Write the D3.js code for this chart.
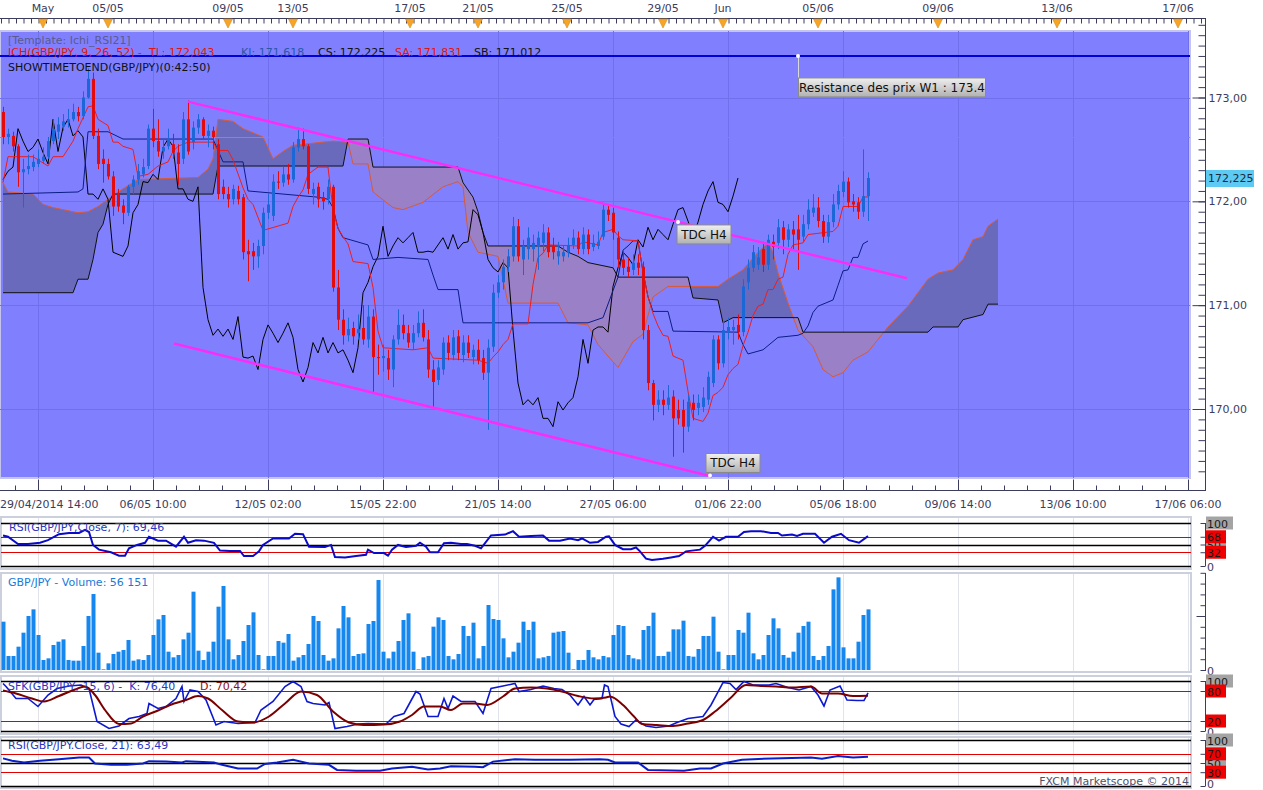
<!DOCTYPE html>
<html>
<head>
<meta charset="UTF-8">
<title>GBP/JPY H4 - Ichimoku</title>
<script src="https://d3js.org/d3.v7.min.js"></script>
<style>
    body { margin: 0; background: #fff; }
    svg { display: block; }
</style>
</head>
<body>
<div id="chart"></div>
<script>
// bougies H4 : [open, high, low, close]
var candles = [
[172.86,172.91,172.55,172.62],[172.62,172.70,172.55,172.65],[172.63,172.67,172.48,172.53],[172.53,172.55,172.14,172.28],
[172.28,172.41,171.94,172.31],[172.31,172.45,172.26,172.34],[172.33,172.45,172.29,172.38],[172.36,172.50,172.33,172.41],
[172.39,172.52,172.36,172.43],[172.43,172.62,172.41,172.58],[172.58,172.79,172.55,172.70],[172.67,172.81,172.60,172.74],
[172.72,172.84,172.68,172.77],[172.76,172.89,172.71,172.79],[172.79,172.94,172.77,172.86],[172.86,172.91,172.77,172.82],
[172.82,173.06,172.79,173.00],[173.00,173.28,172.99,173.18],[173.18,173.24,172.60,172.63],[172.63,172.70,172.31,172.36],
[172.41,172.50,172.18,172.36],[172.36,172.41,172.21,172.24],[172.24,172.29,171.86,171.95],[172.07,172.12,171.90,171.95],
[171.96,172.02,171.78,171.89],[171.89,172.16,171.86,172.14],[172.14,172.25,172.07,172.21],[172.21,172.36,172.16,172.29],
[172.26,172.41,172.23,172.33],[172.34,172.74,172.31,172.70],[172.70,172.89,172.52,172.58],[172.58,172.79,172.43,172.48],
[172.48,172.60,172.41,172.52],[172.53,172.70,172.50,172.60],[172.55,172.65,172.41,172.47],[172.47,172.55,172.16,172.36],
[172.41,172.86,172.36,172.79],[172.79,172.97,172.45,172.48],[172.57,172.77,172.50,172.71],[172.71,172.84,172.65,172.79],
[172.79,172.81,172.60,172.63],[172.63,172.74,172.52,172.68],[172.68,172.72,172.50,172.62],[172.55,172.60,172.02,172.07],
[172.14,172.21,172.02,172.07],[172.07,172.14,171.94,172.02],[172.02,172.16,171.97,172.12],[172.10,172.15,171.97,172.02],
[172.04,172.07,171.44,171.51],[171.52,171.63,171.23,171.49],[171.52,171.60,171.34,171.47],[171.47,171.63,171.36,171.57],
[171.57,171.94,171.49,171.89],[171.89,172.07,171.83,171.97],[171.86,172.26,171.81,172.19],[172.19,172.29,172.12,172.18],
[172.18,172.33,172.14,172.26],[172.26,172.36,172.16,172.21],[172.21,172.57,172.18,172.52],[172.52,172.71,172.48,172.60],
[172.60,172.70,172.50,172.53],[172.53,172.55,172.07,172.12],[172.07,172.18,171.97,172.12],[172.14,172.18,171.94,172.02],
[172.04,172.09,171.92,172.00],[172.02,172.21,171.97,172.14],[172.14,172.16,171.13,171.17],[171.17,171.34,170.76,170.86],
[170.86,170.96,170.62,170.71],[170.71,170.88,170.65,170.77],[170.78,170.84,170.62,170.70],[170.73,170.91,170.67,170.77],
[170.78,171.00,170.62,170.67],[170.67,171.00,170.59,170.89],[170.89,170.96,170.16,170.50],[170.50,170.62,170.33,170.49],
[170.49,170.62,170.36,170.51],[170.49,170.57,170.28,170.38],[170.38,170.71,170.21,170.67],[170.67,170.96,170.62,170.81],
[170.81,170.91,170.67,170.73],[170.73,170.81,170.59,170.64],[170.64,170.81,170.57,170.73],[170.73,170.94,170.69,170.83],
[170.83,170.96,170.65,170.69],[170.67,170.76,170.30,170.38],[170.38,170.47,170.02,170.26],[170.28,170.47,170.23,170.40],
[170.38,170.69,170.33,170.64],[170.64,170.71,170.47,170.54],[170.52,170.76,170.47,170.69],[170.70,170.76,170.47,170.54],
[170.52,170.71,170.45,170.64],[170.64,170.71,170.49,170.54],[170.50,170.62,170.43,170.57],[170.57,170.67,170.43,170.47],
[170.49,170.57,170.28,170.35],[170.35,170.67,169.80,170.59],[170.60,171.20,170.55,171.12],[171.12,171.29,171.07,171.22],
[171.22,171.44,171.15,171.37],[171.37,171.54,171.32,171.47],[171.47,171.85,171.42,171.76],[171.76,171.83,171.42,171.47],
[171.44,171.63,171.29,171.57],[171.54,171.75,171.44,171.65],[171.54,171.68,171.42,171.60],[171.56,171.71,171.34,171.65],
[171.60,171.78,171.52,171.70],[171.70,171.75,171.46,171.51],[171.57,171.65,171.44,171.51],[171.47,171.61,171.39,171.52],
[171.47,171.58,171.42,171.51],[171.51,171.65,171.46,171.58],[171.58,171.73,171.54,171.65],[171.65,171.71,171.49,171.54],
[171.54,171.75,171.49,171.68],[171.68,171.73,171.49,171.54],[171.56,171.68,171.52,171.60],[171.57,171.71,171.54,171.61],
[171.66,171.97,171.63,171.92],[171.92,171.97,171.81,171.87],[171.89,171.94,171.63,171.70],[171.65,171.71,171.36,171.44],
[171.44,171.52,171.29,171.36],[171.37,171.46,171.27,171.32],[171.34,171.49,171.29,171.41],[171.41,171.49,171.29,171.36],
[171.37,171.42,170.67,170.76],[170.76,170.81,170.18,170.25],[170.25,170.28,169.89,170.04],[170.04,170.18,169.97,170.09],
[170.09,170.18,169.94,170.04],[170.04,170.23,169.99,170.11],[170.12,170.18,169.54,169.91],[169.99,170.09,169.85,169.91],
[169.99,170.09,169.58,169.83],[169.83,170.14,169.78,170.07],[170.06,170.14,169.89,169.99],[170.01,170.14,169.94,170.06],
[170.02,170.21,169.97,170.11],[170.09,170.36,170.04,170.31],[170.25,170.71,170.21,170.67],[170.67,170.71,170.38,170.44],
[170.44,170.84,170.40,170.76],[170.74,170.88,170.67,170.79],[170.76,170.86,170.62,170.79],[170.81,170.91,170.67,170.74],
[170.74,171.25,170.70,171.18],[171.22,171.44,171.15,171.36],[171.36,171.58,171.32,171.51],[171.39,171.56,171.34,171.46],
[171.54,171.61,171.32,171.39],[171.39,171.68,171.34,171.63],[171.61,171.68,171.44,171.56],[171.60,171.83,171.54,171.75],
[171.75,171.81,171.49,171.63],[171.63,171.78,171.56,171.73],[171.73,171.81,171.54,171.68],[171.73,171.87,171.34,171.63],
[171.66,171.87,171.61,171.78],[171.78,172.02,171.73,171.92],[171.89,172.07,171.85,171.94],[171.94,172.04,171.75,171.81],
[171.81,171.87,171.60,171.66],[171.66,171.87,171.60,171.80],[171.80,172.07,171.75,171.97],[171.97,172.16,171.92,172.10],
[172.09,172.29,172.04,172.19],[172.19,172.23,171.94,171.99],[172.00,172.07,171.90,171.97],[171.99,172.04,171.83,171.90],
[171.90,172.50,171.85,172.05],[172.05,172.28,171.81,172.225]
];

var volumes = [
44750,12960,12960,21600,34560,50000,56170,32400,9260,10800,
23150,26230,28390,9260,8640,8640,22220,50000,70360,16050,
620,6170,14810,16970,18520,27770,8640,9880,9260,13890,
32400,46910,50920,16970,11730,13890,28390,34560,72520,17900,
9260,16970,26230,58630,77770,28390,9880,13890,26850,41660,
53390,13890,620,12960,12960,26850,25310,33330,8640,11730,
13890,24070,50000,45360,13890,8640,10800,38580,59250,48760,
12960,14810,15430,42590,45360,83320,16970,10800,16970,26850,
46290,52460,16970,620,11730,12960,40120,48760,46290,12960,
9880,14810,40740,31480,43820,10800,22220,60180,47220,46290,
29320,11730,16970,25310,44750,37030,44750,10800,11730,12960,
34560,35490,36110,16050,620,9260,9260,18520,11730,9880,
12960,11730,32400,41660,40740,13890,10800,9880,37030,40740,
53080,12960,12960,16970,37650,37650,45670,12960,12340,19440,
31480,31480,49380,16970,620,13890,13890,37030,34560,53080,
15430,9880,13890,32400,47830,38580,13890,11420,16970,34560,
40740,44750,12960,9260,12960,22220,74680,85790,20980,10800,
10800,26230,50920,56151
];

// lignes Ichimoku : [indice de barre, prix]
var tenkan = [[0,172.18],[1,172.43],[6,172.43],[9,172.34],[10,172.43],[12,172.43],[14,172.58],[15,172.70],[17,172.91],[18,172.92],
[19,172.79],[21,172.73],[22,172.57],[23,172.57],[24,172.53],[26,172.50],[27,172.24],[29,172.26],[31,172.34],[33,172.38],
[34,172.48],[35,172.53],[37,172.57],[42,172.57],[43,172.49],[45,172.49],[46,172.40],[48,172.13],[49,172.02],[50,171.97],
[52,171.72],[57,171.79],[58,171.95],[59,172.04],[60,172.11],[61,172.26],[63,172.33],[65,172.33],[66,171.92],[67,171.74],
[68,171.66],[69,171.59],[70,171.42],[73,171.40],[74,171.17],[75,170.75],[76,170.59],[82,170.57],[85,170.59],[86,170.49],
[95,170.47],[97,170.44],[98,170.50],[99,170.55],[100,170.62],[101,170.67],[102,170.82],[105,170.82],[106,171.20],[107,171.46],
[108,171.50],[109,171.58],[115,171.57],[116,171.61],[119,171.58],[120,171.70],[122,171.73],[123,171.67],[124,171.63],[127,171.62],
[128,171.32],[129,171.08],[130,170.92],[131,170.80],[132,170.71],[133,170.70],[134,170.51],[136,170.47],[137,170.17],[138,169.91],
[140,169.88],[141,169.96],[142,170.13],[143,170.16],[144,170.21],[145,170.33],[146,170.39],[147,170.43],[148,170.61],[149,170.74],
[150,170.90],[151,170.99],[152,171.01],[153,171.15],[154,171.15],[155,171.25],[156,171.27],[157,171.49],[158,171.58],[160,171.60],
[161,171.68],[166,171.71],[167,171.76],[168,171.95],[171,171.95],[172,172.04],[173,172.043]];

var kijun = [[0,172.07],[15,172.09],[16,172.12],[17,172.67],[21,172.67],[24,172.60],[42,172.60],[44,172.38],[48,172.38],[49,172.10],
[63,172.04],[65,172.02],[66,171.94],[67,171.74],[68,171.65],[73,171.58],[74,171.44],[79,171.46],[85,171.44],[86,171.29],
[87,171.15],[91,171.15],[92,170.83],[117,170.83],[120,170.88],[123,171.27],[124,171.53],[125,171.57],[126,171.62],[127,171.62],
[128,171.32],[129,171.08],[130,170.94],[133,170.94],[134,170.75],[147,170.74],[148,170.62],[149,170.53],[152,170.57],[153,170.61],
[155,170.69],[159,170.71],[160,170.73],[161,170.80],[162,170.93],[163,170.99],[166,171.05],[167,171.19],[168,171.33],[169,171.34],
[170,171.46],[171,171.46],[172,171.59],[173,171.618]];

var spanA = [[0,172.18],[1,172.09],[6,172.07],[8,171.97],[10,171.94],[15,171.89],[17,171.90],[19,171.95],[21,172.02],[24,172.12],
[27,172.21],[39,172.23],[41,172.31],[42,172.41],[43,172.79],[46,172.77],[48,172.70],[52,172.62],[54,172.41],[56,172.48],
[58,172.54],[66,172.58],[69,172.57],[70,172.36],[73,172.36],[74,172.09],[78,171.94],[80,171.92],[84,171.99],[88,172.14],
[91,172.19],[92,172.14],[93,171.70],[95,171.51],[99,171.47],[101,171.02],[111,171.02],[113,170.83],[117,170.81],[119,170.62],
[123,170.40],[126,170.65],[128,170.72],[130,171.08],[133,171.18],[143,171.18],[145,171.25],[148,171.34],[151,171.51],[153,171.60],
[154,171.51],[155,171.31],[157,171.02],[159,170.76],[162,170.60],[164,170.38],[166,170.31],[168,170.35],[170,170.47],[173,170.55],
[175,170.67],[177,170.79],[179,170.89],[181,170.99],[183,171.12],[185,171.25],[187,171.31],[190,171.34],[192,171.44],[194,171.63],
[196,171.66],[197,171.76],[199,171.83]];

var spanB = [[0,171.12],[14,171.12],[15,171.25],[17,171.25],[18,171.44],[19,171.70],[20,171.78],[21,171.97],[22,172.07],[42,172.07],
[43,172.34],[68,172.34],[69,172.60],[73,172.60],[74,172.33],[91,172.33],[92,172.18],[94,172.04],[95,171.90],[96,171.70],
[97,171.57],[111,171.57],[113,171.51],[115,171.47],[117,171.41],[122,171.36],[123,171.27],[137,171.27],[138,171.07],[143,171.05],
[144,170.83],[146,170.88],[159,170.88],[160,170.74],[185,170.74],[186,170.79],[191,170.79],[192,170.86],[196,170.91],[197,171.01],
[199,171.01]];

var chikouShift = 26;

// indicateurs : [indice de barre, valeur]
var rsi7 = [[0,71],[1,68],[3,51],[5,51],[7.4,54],[9,60],[11.2,74],[13.2,77],[15.2,77],[16.4,84],[17.2,79],[18,49],[19.2,38],
[21.6,32],[23.2,24],[24.4,24],[25.2,41],[26.8,49],[28.4,54],[29.2,68],[31,59],[32.6,59],[34.6,45],[36.2,68],[37,54],[38.6,60],
[40.2,59],[42.2,54],[43.4,36],[45.4,35],[47.4,35],[48.2,23],[50,23],[51.2,34],[52,49],[54,64],[57.2,64],[58.4,75],[60,74],
[61.2,45],[64.4,44],[65.6,49],[66.4,21],[68.4,20],[70.6,23],[72.6,26],[73,38],[74.2,30],[76.2,30],[77,24],[77.8,38],[79,49],
[80.6,44],[82.6,47],[83.4,54],[84.6,45],[85.4,32],[87,32],[88.2,53],[89.6,54],[91.6,51],[92.8,51],[94.4,47],[95.6,41],[97.6,71],
[100.4,73],[102,81],[103.2,68],[105.6,70],[108,71],[109.2,59],[111.4,59],[113.4,64],[115,60],[115.8,64],[117.4,54],[119,56],
[120.6,68],[121.2,69],[122.4,49],[124,39],[125.6,39],[126.6,43],[127.4,34],[128.6,17],[129.8,14],[132,17],[133.6,20],[135.2,23],
[136.6,34],[139.4,38],[140.4,47],[142,68],[143.2,59],[144.6,68],[147,68],[148.2,79],[149.6,81],[151.6,81],[153.6,77],[155,77],
[155.8,71],[157.8,73],[158.8,70],[160,75],[162.4,75],[164.2,54],[165.8,68],[167.6,75],[169.2,60],[171.2,54],[173,69.46]];

var stochK = [[0,95],[0.6,89],[2.6,65],[5,65],[7,49],[9,72],[10.8,85],[13.2,90],[15.6,92],[17.2,85],[18.8,19],[21.2,5],[23.2,10],
[25.2,25],[27.2,29],[28.8,35],[29.2,55],[31,45],[32.6,49],[34.6,65],[35.8,89],[36.2,59],[37.4,82],[39,79],[40.6,62],[42.6,12],
[44.2,19],[47,15],[50.4,17],[51.6,42],[54,59],[56.4,89],[58,99],[59.6,89],[60.8,59],[62,55],[64.4,52],[65.2,57],[66.4,5],
[68.8,9],[71,14],[73,15],[76.6,14],[78.2,29],[80.2,35],[82.6,79],[83.4,74],[85,29],[87,29],[88.2,65],[89,45],[90,70],[91.6,59],
[94.4,59],[96,35],[97.6,85],[100,90],[102.4,95],[103.2,79],[105.6,83],[108,90],[110.2,85],[111.8,83],[113.4,72],[115,52],
[116.2,69],[117.4,52],[118.2,63],[119.8,65],[120.3,92],[121,89],[122.4,29],[123.6,14],[125.2,9],[126.6,22],[128.6,10],[130.6,7],
[133.2,10],[134.8,17],[137,25],[140,29],[141.6,52],[144,97],[145.4,95],[146.6,83],[148.2,99],[150,92],[153.2,92],[154.6,95],
[157,87],[159.2,82],[161.6,89],[163,72],[164.2,50],[165.4,82],[167.4,90],[168.8,62],[170.8,61],[172.2,61],[173,76.4]];

var stochD = [[0,81],[2.6,75],[5.8,65],[8.2,59],[11.2,70],[14.4,83],[16.4,89],[18.4,72],[20.4,42],[23.2,14],[25.6,15],[28,29],
[31,41],[34.2,55],[36.6,62],[39,70],[41,65],[43.8,42],[47,19],[50,17],[53.2,29],[56.4,55],[59.6,79],[62.8,72],[66,39],[69.2,17],
[72.2,12],[76.2,13],[79.4,19],[81.8,32],[84.2,49],[87.4,49],[89.6,42],[92,55],[94.4,55],[96.8,52],[100,69],[102.4,85],[105.6,87],
[108.8,85],[111.8,79],[115,70],[118.2,65],[120.6,67],[121.4,69],[124,52],[126.2,29],[127.8,14],[130.8,12],[134,10],[137,15],
[140,22],[142.4,39],[145.4,65],[148.6,92],[151.6,90],[154.6,89],[157.8,87],[161.6,89],[163.8,75],[167,75],[170,70],[173,70.42]];

var rsi21 = [[0,60],[1.8,55],[4.2,51],[7.4,55],[11.2,58],[15.2,62],[17.2,62],[18.4,49],[21.6,46],[24.8,46],[28,49],[29.2,54],
[32.6,53],[35.8,51],[36.6,54],[42.2,51],[43.8,46],[47,38],[50.8,38],[52.4,48],[54.8,51],[58,57],[61.2,49],[65.2,46],[66.8,35],
[70.6,33],[75.4,33],[77.8,38],[81.8,42],[85,36],[87.4,38],[89.6,43],[94.4,42],[96,41],[98,53],[102.4,58],[106.4,57],[113.4,57],
[119.4,58],[121,57],[122.4,51],[127,51],[129,35],[136.2,33],[139.4,38],[141.6,38],[144,49],[147.8,57],[153.8,60],[161.6,62],
[163.8,59],[167,65],[170,62],[173,63.49]];

// axes et repères
var priceTicks = [170, 171, 172, 173];
var bottomTickIdx = [7, 30, 53, 76, 99, 122, 145, 168, 191, 214, 237];
var bottomLabels = ["29/04/2014 14:00", "06/05 10:00", "12/05 02:00", "15/05 22:00", "21/05 14:00", "27/05 06:00",
    "01/06 22:00", "05/06 18:00", "09/06 14:00", "13/06 10:00", "17/06 06:00"];
var topMarkIdx = [8, 21, 45, 58, 81.4, 95, 112.8, 132, 144, 163, 187, 210.8, 235];
var topLabels = ["May", "05/05", "09/05", "13/05", "17/05", "21/05", "25/05", "29/05", "Jun", "05/06", "09/06", "13/06", "17/06"];
var trendUpper = [[37, 172.96], [180.8, 171.26]];
var trendLower = [[34.2, 170.63], [141.8, 169.35]];
var resistanceW1 = 173.4;
var levelLine = 172.62;
var lastClose = 172.225;

var W = 1263, H = 790;
var plot = { left: 0, top: 31, right: 1190, bottom: 478 };
var axisX = 1205;
var red = "#e30b0b", blue = "#1b67d8";
var txtCol = "#3c3c5c";

var svg = d3.select("#chart").append("svg")
    .attr("width", W).attr("height", H)
    .style("font-family", "'DejaVu Sans', Verdana, sans-serif")
    .style("font-size", "11px");

svg.append("rect").attr("width", W).attr("height", H).attr("fill", "#fff");

var defs = svg.append("defs");
defs.append("clipPath").attr("id", "plotClip").append("rect")
    .attr("x", plot.left).attr("y", plot.top)
    .attr("width", plot.right - plot.left).attr("height", plot.bottom - plot.top);
var grad = defs.append("linearGradient").attr("id", "tagFill")
    .attr("x1", 0).attr("y1", 0).attr("x2", 0).attr("y2", 1);
grad.append("stop").attr("offset", "0%").attr("stop-color", "#f0f0f0");
grad.append("stop").attr("offset", "100%").attr("stop-color", "#b0b0b0");

var x = d3.scaleLinear().domain([0, 173]).range([3, 868]);
var y = d3.scaleLinear().domain([170, 173]).range([409, 97.5]);

// ---------- graphique principal ----------
svg.append("rect")
    .attr("x", plot.left).attr("y", plot.top)
    .attr("width", plot.right - plot.left).attr("height", plot.bottom - plot.top)
    .attr("fill", "#8080ff").attr("stroke", "#c4c4ec").attr("stroke-width", 2);

var main = svg.append("g").attr("clip-path", "url(#plotClip)");

main.selectAll(".hgrid").data(priceTicks).enter().append("line")
    .attr("x1", plot.left).attr("x2", plot.right)
    .attr("y1", d => Math.round(y(d)) + 0.5).attr("y2", d => Math.round(y(d)) + 0.5)
    .attr("stroke", "#7070ec");
main.selectAll(".vgrid").data(bottomTickIdx).enter().append("line")
    .attr("x1", d => x(d) + 0.5).attr("x2", d => x(d) + 0.5)
    .attr("y1", plot.top).attr("y2", plot.bottom)
    .attr("stroke", "#7070ec");

// nuage : deux couleurs selon la position de SSA / SSB
var aboveArea = d3.area().x(d => x(d[0])).y0(plot.top).y1(d => y(d[1]));
var belowArea = d3.area().x(d => x(d[0])).y0(d => y(d[1])).y1(plot.bottom);
defs.append("clipPath").attr("id", "aboveB").append("path").attr("d", aboveArea(spanB));
defs.append("clipPath").attr("id", "aboveA").append("path").attr("d", aboveArea(spanA));
main.append("path").attr("d", belowArea(spanA)).attr("fill", "#6a6abc").attr("clip-path", "url(#aboveB)");
main.append("path").attr("d", belowArea(spanB)).attr("fill", "#9a80c6").attr("clip-path", "url(#aboveA)");

var line = d3.line().x(d => x(d[0])).y(d => y(d[1]));
main.append("path").attr("d", line(spanA)).attr("fill", "none").attr("stroke", "#d65a3a").attr("stroke-width", 1);
main.append("path").attr("d", line(spanB)).attr("fill", "none").attr("stroke", "#101010").attr("stroke-width", 1);

main.append("line").attr("x1", plot.left).attr("x2", plot.right)
    .attr("y1", Math.round(y(levelLine)) + 0.5).attr("y2", Math.round(y(levelLine)) + 0.5)
    .attr("stroke", "#8f8f86");
main.append("line").attr("x1", plot.left).attr("x2", plot.right)
    .attr("y1", y(resistanceW1)).attr("y2", y(resistanceW1))
    .attr("stroke", "#0000d8").attr("stroke-width", 2);

var chikou = candles.slice(chikouShift).map((d, k) => [k, d[3]]);
main.append("path").attr("d", line(chikou)).attr("fill", "none").attr("stroke", "#000").attr("stroke-width", 1);
main.append("path").attr("d", line(kijun)).attr("fill", "none").attr("stroke", "#0c1c86").attr("stroke-width", 1);
main.append("path").attr("d", line(tenkan)).attr("fill", "none").attr("stroke", "#f01c1c").attr("stroke-width", 1);

// bougies
var gC = main.append("g");
gC.selectAll(".wick").data(candles).enter().append("line")
    .attr("x1", (d, i) => x(i) + 0.5).attr("x2", (d, i) => x(i) + 0.5)
    .attr("y1", d => y(d[1])).attr("y2", d => y(d[2]))
    .attr("stroke", d => d[3] >= d[0] ? blue : red);
gC.selectAll(".body").data(candles).enter().append("rect")
    .attr("x", (d, i) => x(i) - 1).attr("width", 3)
    .attr("y", d => y(Math.max(d[0], d[3])))
    .attr("height", d => Math.max(1, Math.abs(y(d[0]) - y(d[3]))))
    .attr("fill", d => d[3] >= d[0] ? blue : red);

// canaux
[trendUpper, trendLower].forEach(function (t) {
    main.append("line")
        .attr("x1", x(t[0][0])).attr("y1", y(t[0][1]))
        .attr("x2", x(t[1][0])).attr("y2", y(t[1][1]))
        .attr("stroke", "#f82ef8").attr("stroke-width", 2.5);
});

function onTrend(t, i) {
    return t[0][1] + (i - t[0][0]) / (t[1][0] - t[0][0]) * (t[1][1] - t[0][1]);
}

function tag(px, py, bx, by, w, h, label) {
    var g = svg.append("g");
    g.append("rect").attr("x", bx).attr("y", by).attr("width", w).attr("height", h)
        .attr("fill", "url(#tagFill)").attr("stroke", "#8a8a8a").attr("stroke-width", 1);
    g.append("text").attr("x", bx + w / 2).attr("y", by + h / 2 + 4.5)
        .attr("text-anchor", "middle").attr("fill", "#111").style("font-size", "12px").text(label);
    g.append("circle").attr("cx", px).attr("cy", py).attr("r", 2).attr("fill", "#fff");
    return g;
}

var tIdx = 135;
var tPy = y(onTrend(trendUpper, tIdx));
tag(x(tIdx), tPy, x(tIdx) - 1, tPy + 3, 54, 19, "TDC H4");
var lPx = x(trendLower[1][0]), lPy = y(trendLower[1][1]);
tag(lPx - 2, lPy - 1, lPx - 6, lPy - 23, 54, 19, "TDC H4");

var rIdx = 159, rPy = y(resistanceW1);
svg.append("line").attr("x1", x(rIdx) + 0.5).attr("x2", x(rIdx) + 0.5)
    .attr("y1", rPy).attr("y2", rPy + 24).attr("stroke", "#d8d8d8");
tag(x(rIdx), rPy, x(rIdx) + 0.5, rPy + 22, 187, 19, "Resistance des prix W1 : 173.4");

// en-tête du graphique
svg.append("text").attr("x", 8).attr("y", 44).attr("fill", "#5a5a90").text("[Template: Ichi_RSI21]");
var ich = svg.append("text").attr("y", 56);
[["ICH(GBP/JPY, 9, 26, 52) -  TL: 172,043", 8, "#e01414"],
 ["KI: 171,618", 241, "#2a56a8"],
 ["CS: 172,225", 318, "#111"],
 ["SA: 171,831", 395, "#e01414"],
 ["SB: 171,012", 474, "#111"]].forEach(function (p) {
    ich.append("tspan").attr("x", p[1]).attr("fill", p[2]).attr("xml:space", "preserve").text(p[0]);
});
svg.append("text").attr("x", 8).attr("y", 71).attr("fill", "#111").text("SHOWTIMETOEND(GBP/JPY)(0:42:50)");

// axe du haut
svg.append("line").attr("x1", 0).attr("x2", axisX).attr("y1", 18.5).attr("y2", 18.5).attr("stroke", txtCol);
var topMinor = d3.range(-0.4, 241, 1.5);
svg.append("g").attr("transform", "translate(0,18.5)")
    .call(d3.axisBottom(x).tickValues(topMinor).tickSize(5).tickFormat(""))
    .call(g => g.select(".domain").remove())
    .call(g => g.selectAll("line").attr("stroke", txtCol));
svg.selectAll(".topMark").data(topMarkIdx).enter().append("path")
    .attr("d", d => "M" + (x(d) - 4.5) + ",19 L" + (x(d) + 4.5) + ",19 L" + x(d) + ",28 Z")
    .attr("fill", "#f7a526").attr("stroke", "#d88a10").attr("stroke-width", 0.6);
svg.selectAll(".topLab").data(topMarkIdx).enter().append("text")
    .attr("x", d => x(d)).attr("y", 12).attr("text-anchor", "middle").attr("fill", txtCol)
    .text((d, i) => topLabels[i]);

// axe du bas
var botMinor = d3.range(2.4, 241, 4.6);
svg.append("line").attr("x1", 0).attr("x2", axisX).attr("y1", 490.5).attr("y2", 490.5).attr("stroke", txtCol);
svg.append("g").attr("transform", "translate(0,490.5)")
    .call(d3.axisTop(x).tickValues(botMinor).tickSize(5).tickFormat(""))
    .call(g => g.select(".domain").remove())
    .call(g => g.selectAll("line").attr("stroke", txtCol));
svg.append("g").attr("transform", "translate(0,490.5)")
    .call(d3.axisTop(x).tickValues(bottomTickIdx).tickSize(11).tickFormat(""))
    .call(g => g.select(".domain").remove())
    .call(g => g.selectAll("line").attr("stroke", txtCol));
svg.selectAll(".botLab").data(bottomTickIdx).enter().append("text")
    .attr("x", (d, i) => i === 0 ? 0 : x(d))
    .attr("y", 508)
    .attr("text-anchor", (d, i) => i === 0 ? "start" : "middle")
    .attr("fill", txtCol)
    .text((d, i) => bottomLabels[i]);

// axe des prix
svg.append("line").attr("x1", axisX + 0.5).attr("x2", axisX + 0.5).attr("y1", 18).attr("y2", 491).attr("stroke", txtCol);
svg.append("g").attr("transform", "translate(" + (axisX + 0.5) + ",0)")
    .call(d3.axisRight(y).tickValues(d3.range(169.4, 173.75, 0.1)).tickSize(-7).tickFormat(""))
    .call(g => g.select(".domain").remove())
    .call(g => g.selectAll("line").attr("stroke", txtCol));
svg.append("g").attr("transform", "translate(" + (axisX + 0.5) + ",0)")
    .call(d3.axisRight(y).tickValues(priceTicks).tickSize(-13).tickPadding(3)
        .tickFormat(d => d3.format(".2f")(d).replace(".", ",")))
    .call(g => g.select(".domain").remove())
    .call(g => g.selectAll("line").attr("stroke", txtCol))
    .call(g => g.selectAll("text").attr("fill", txtCol).style("font-size", "11px")
        .style("font-family", "'DejaVu Sans', Verdana, sans-serif"));
svg.append("rect").attr("x", axisX + 1).attr("y", y(lastClose) - 8).attr("width", 48).attr("height", 17).attr("fill", "#5ccaf2");
svg.append("text").attr("x", axisX + 3).attr("y", y(lastClose) + 4.5).attr("fill", "#1a2a3a").text("172,225");

// ---------- panneaux inférieurs ----------
function panelFrame(top, bottom) {
    svg.append("rect").attr("x", 1).attr("y", top).attr("width", 1190).attr("height", bottom - top)
        .attr("fill", "#fff").attr("stroke", "#ccd0dc").attr("stroke-width", 2);
    svg.append("g").selectAll("line").data(bottomTickIdx).enter().append("line")
        .attr("x1", d => x(d) + 0.5).attr("x2", d => x(d) + 0.5)
        .attr("y1", top + 1).attr("y2", bottom - 1).attr("stroke", "#e2e2ea");
}

function levels(sc, list) {
    list.forEach(function (l) {
        svg.append("line").attr("x1", 1).attr("x2", 1191)
            .attr("y1", Math.round(sc(l[0])) + 0.5).attr("y2", Math.round(sc(l[0])) + 0.5)
            .attr("stroke", l[1]).attr("stroke-width", l[1] === "#000" ? 1.4 : 1);
    });
}

function rightScale(sc, list, ticks) {
    svg.append("line").attr("x1", axisX + 0.5).attr("x2", axisX + 0.5)
        .attr("y1", sc.range()[1]).attr("y2", sc.range()[0]).attr("stroke", txtCol);
    svg.append("g").attr("transform", "translate(" + (axisX + 0.5) + ",0)")
        .call(d3.axisRight(sc).tickValues(ticks).tickSize(-5).tickFormat(""))
        .call(g => g.select(".domain").remove())
        .call(g => g.selectAll("line").attr("stroke", txtCol));
    list.forEach(function (l) {
        if (l[1]) {
            svg.append("rect").attr("x", axisX + 1).attr("y", sc(l[0]) - 6.5)
                .attr("width", l[0] === 100 ? 27 : 20).attr("height", 13).attr("fill", l[1]);
        }
        svg.append("text").attr("x", axisX + 2).attr("y", Math.min(sc(l[0]) + 4.5, H - 2))
            .attr("fill", l[1] ? "#1a1a1a" : txtCol).text(l[0]);
    });
}

var lineIdx = d3.line().x(d => x(d[0]));

// RSI 7
var r7 = d3.scaleLinear().domain([0, 100]).range([566, 523]);
panelFrame(517, 569);
levels(r7, [[100, "#000"], [68, "#e00000"], [50, "#000"], [32, "#e00000"], [0, "#000"]]);
svg.append("path").attr("d", lineIdx.y(d => r7(d[1]))(rsi7))
    .attr("fill", "none").attr("stroke", "#0a0ac8").attr("stroke-width", 2);
svg.append("text").attr("x", 9).attr("y", 531).attr("fill", "#2a36c0").text("RSI(GBP/JPY,Close, 7): 69,46");
rightScale(r7, [[100, "#a4a4a4"], [50, "#a4a4a4"], [68, "#f00000"], [32, "#f00000"], [0, null]], [0, 32, 50, 68, 100]);

// volume
var vy = d3.scaleLinear().domain([0, 50000]).range([670, 616]);
panelFrame(573, 672);
svg.append("g").selectAll("rect").data(volumes).enter().append("rect")
    .attr("x", (d, i) => x(i) - 1.5).attr("width", 4)
    .attr("y", d => vy(d)).attr("height", d => vy(0) - vy(d))
    .attr("fill", "#1787f0");
svg.append("text").attr("x", 8).attr("y", 586).attr("fill", "#1a7ad8").text("GBP/JPY - Volume: 56 151");
svg.append("line").attr("x1", axisX + 0.5).attr("x2", axisX + 0.5).attr("y1", 573).attr("y2", 671).attr("stroke", txtCol);
svg.append("g").attr("transform", "translate(" + (axisX + 0.5) + ",0)")
    .call(d3.axisRight(vy).tickValues(d3.range(0, 90001, 10000)).tickSize(-5).tickFormat(""))
    .call(g => g.select(".domain").remove())
    .call(g => g.selectAll("line").attr("stroke", txtCol))
    .call(g => g.selectAll(".tick").filter(d => d === 50000).select("line").attr("x2", -9));
svg.append("text").attr("x", axisX + 2).attr("y", vy(0) + 5).attr("fill", txtCol).text("0");

// stochastique
var st = d3.scaleLinear().domain([0, 100]).range([731, 681]);
panelFrame(676, 734);
levels(st, [[100, "#000"], [80, "#e00000"], [20, "#e00000"], [0, "#000"]]);
svg.append("path").attr("d", lineIdx.y(d => st(d[1]))(stochK))
    .attr("fill", "none").attr("stroke", "#0c18d0").attr("stroke-width", 1.6);
svg.append("path").attr("d", lineIdx.y(d => st(d[1])).curve(d3.curveMonotoneX)(stochD))
    .attr("fill", "none").attr("stroke", "#7a0000").attr("stroke-width", 2);
lineIdx.curve(d3.curveLinear);
var sfk = svg.append("text").attr("y", 690);
sfk.append("tspan").attr("x", 8).attr("fill", "#2a36c0").attr("xml:space", "preserve").text("SFK(GBP/JPY, 15, 6) -  K: 76,40");
sfk.append("tspan").attr("x", 200).attr("fill", "#8e1010").text("D: 70,42");
rightScale(st, [[100, "#a4a4a4"], [80, "#f00000"], [20, "#f00000"], [0, null]], [0, 20, 80, 100]);

// RSI 21
var r21 = d3.scaleLinear().domain([0, 100]).range([786, 740]);
panelFrame(737, 788);
levels(r21, [[100, "#000"], [70, "#e00000"], [50, "#000"], [30, "#e00000"], [0, "#000"]]);
svg.append("path").attr("d", lineIdx.y(d => r21(d[1]))(rsi21))
    .attr("fill", "none").attr("stroke", "#0a1ec8").attr("stroke-width", 2);
svg.append("text").attr("x", 8).attr("y", 749).attr("fill", "#2a36c0").text("RSI(GBP/JPY.Close, 21): 63,49");
svg.append("text").attr("x", 1189).attr("y", 785).attr("text-anchor", "end").attr("fill", "#4e4e6e")
    .text("FXCM Marketscope \u00a9 2014");
rightScale(r21, [[100, "#a4a4a4"], [50, "#a4a4a4"], [70, "#f00000"], [30, "#f00000"], [0, null]], [0, 30, 50, 70, 100]);
</script>
</body>
</html>
